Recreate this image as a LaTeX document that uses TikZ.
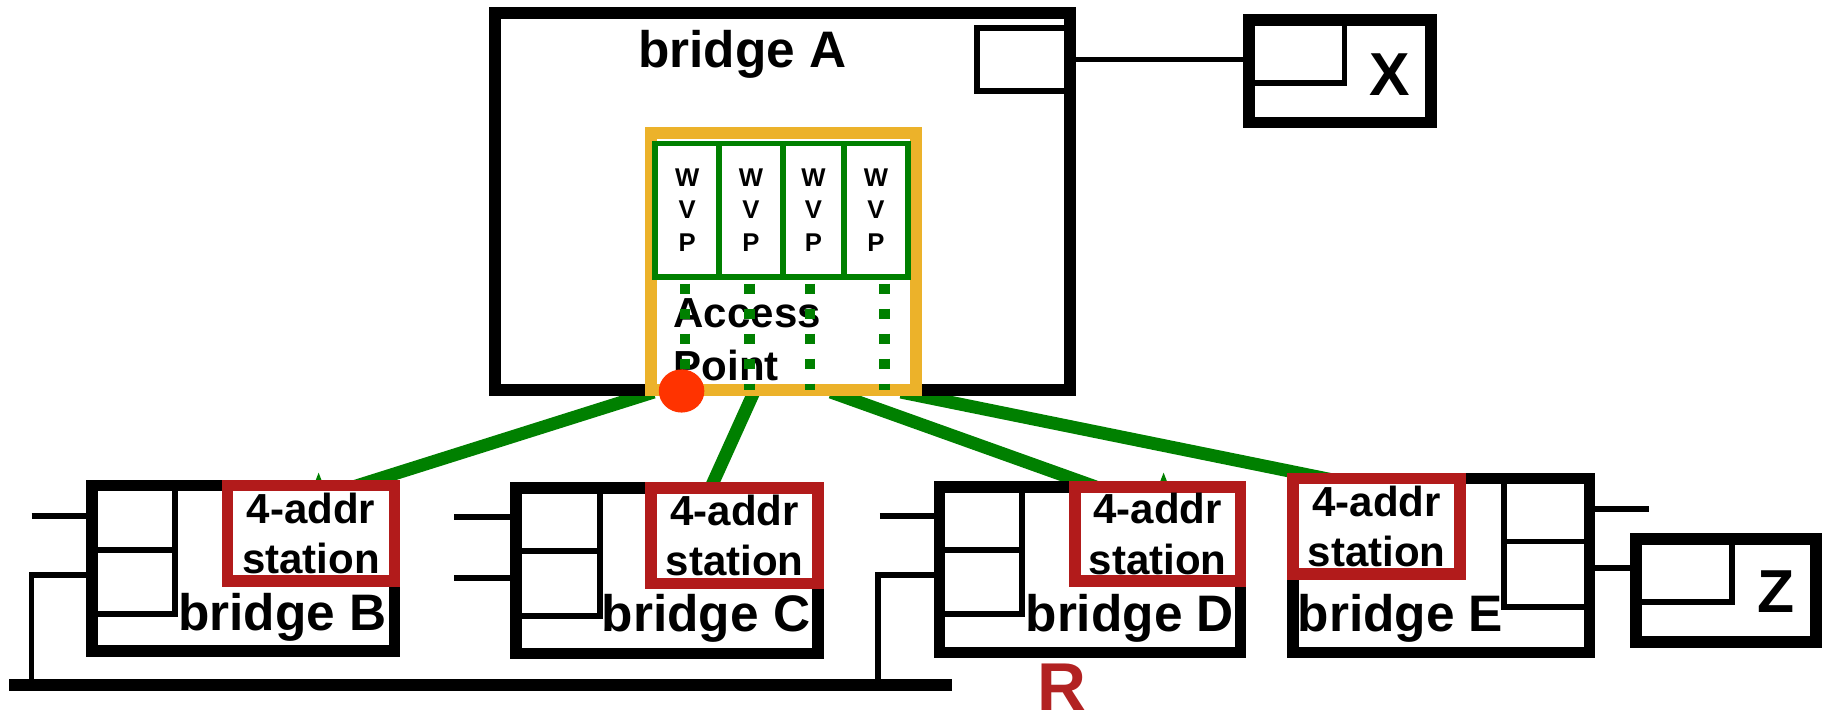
\documentclass[tikz,border=0pt]{standalone}
\usepackage{fontspec}
\setmainfont{Liberation Sans}
\usetikzlibrary{shapes.geometric}
\definecolor{wgreen}{RGB}{0,128,0}
\definecolor{aporange}{RGB}{236,178,42}
\definecolor{boxred}{RGB}{178,27,27}
\definecolor{dotred}{RGB}{255,51,0}
\definecolor{rred}{RGB}{178,34,34}
\begin{document}
\begin{tikzpicture}[x=1pt,y=-1pt,
  bridgebox/.style={draw=black, line width=10pt, fill=white, rectangle, inner sep=0pt, outer sep=0pt},
  portbox/.style={draw=black, line width=5pt, rectangle, inner sep=0pt, outer sep=0pt},
  thinline/.style={draw=black, line width=5pt},
  busline/.style={draw=black, line width=10pt},
  addrbox/.style={draw=boxred, line width=10pt, fill=white, rectangle, inner sep=0pt, outer sep=0pt,
     align=center, font=\fontsize{36}{43}\selectfont\bfseries},
  wvpbox/.style={draw=wgreen, line width=5pt, rectangle, inner sep=0pt, outer sep=0pt,
     align=center, font=\fontsize{22}{28}\selectfont\bfseries, minimum height=114pt},
  aptext/.style={anchor=base west, inner sep=0pt, font=\fontsize{36}{45}\selectfont\bfseries},
  blabel/.style={anchor=base, inner sep=0pt, font=\fontsize{44}{50}\selectfont\bfseries},
  wireless/.style={draw=wgreen, line width=11pt},
  dotline/.style={draw=wgreen, line width=9pt, dash pattern=on 9pt off 12.4pt},
]
\useasboundingbox (0,0) rectangle (1568,618);

% named end points of the wireless links
\coordinate (ap1) at (560,336);
\coordinate (ap2) at (646,336);
\coordinate (ap3) at (712,336);
\coordinate (ap4) at (772,336);
\coordinate (tB) at (300,418);
\coordinate (tC) at (608,420);
\coordinate (tD) at (944,419);
\coordinate (tE) at (1146,412);

% wireless links (behind the boxes)
\draw[wireless] (ap1) -- (tB);
\draw[wireless] (ap2) -- (tC);
\draw[wireless] (ap3) -- (tD);
\draw[wireless] (ap4) -- (tE);
\fill[wgreen] (269.5,414) -- (273,405) -- (276.5,414) -- cycle;
\fill[wgreen] (993.5,414) -- (997,405) -- (1000.5,414) -- cycle;

% bridge A
\node[bridgebox, minimum width=493pt, minimum height=323pt] (A) at (670.5,172.5) {};
\node[portbox, minimum width=77pt, minimum height=54pt] (Aport) at (875.5,51) {};
\node[blabel] (Alabel) at (636,58) {bridge A};

% X
\node[bridgebox, minimum width=156pt, minimum height=88pt] (X) at (1148,61) {};
\node[portbox, minimum width=82pt, minimum height=54pt] (Xport) at (1111,44) {};
\node[inner sep=0pt, font=\fontsize{52}{60}\selectfont\bfseries] (Xlabel) at (1191,64) {X};
\draw[thinline] (Aport.east) -- (Aport.east -| X.west);

% access point
\node[draw=aporange, line width=10pt, fill=white, rectangle, inner sep=0pt, outer sep=0pt,
      minimum width=227pt, minimum height=220pt] (AP) at (671.5,224) {};
\node[aptext] (apt1) at (577,281) {Access};
\node[aptext] (apt2) at (577,326) {Point};
\node[wvpbox, minimum width=54.5pt] (w1) at (588.75,180) {W\\V\\P};
\node[wvpbox, minimum width=55pt] (w2) at (643.5,180) {W\\V\\P};
\node[wvpbox, minimum width=52pt] (w3) at (697,180) {W\\V\\P};
\node[wvpbox, minimum width=55pt] (w4) at (750.5,180) {W\\V\\P};
\coordinate (d1t) at (587,243); \coordinate (d1b) at (587,334);
\coordinate (d2t) at (642,243); \coordinate (d2b) at (642,334);
\coordinate (d3t) at (694,243); \coordinate (d3b) at (694,334);
\coordinate (d4t) at (758,243); \coordinate (d4b) at (758,334);
\draw[dotline] (d1t) -- (d1b);
\draw[dotline] (d2t) -- (d2b);
\draw[dotline] (d3t) -- (d3b);
\draw[dotline] (d4t) -- (d4b);
\node[fill=dotred, ellipse, inner sep=0pt, minimum width=39pt, minimum height=37pt] (dot) at (584,335) {};

% bus
\coordinate (busL) at (8,587);
\coordinate (busR) at (816,587);
\draw[busline] (busL) -- (busR);

% bridge B
\node[bridgebox, minimum width=259pt, minimum height=142pt] (B) at (208.5,487) {};
\draw[thinline] (150,416) -- (150,526) -- (79,526);
\draw[thinline] (79,471) -- (150,471);
\draw[thinline] (27,442) -- (79,442);
\coordinate (bdrop) at (27,493);
\draw[thinline] (79,493) -- (bdrop) -- (bdrop |- busL);
\node[addrbox, minimum width=143pt, minimum height=82pt] (rB) at (266.5,457) {4-addr\\station};
\node[blabel] (Blabel) at (242,540) {bridge B};

% bridge C
\node[bridgebox, minimum width=259pt, minimum height=142pt] (C) at (571.5,489) {};
\draw[thinline] (514,418) -- (514,527.5) -- (442,527.5);
\draw[thinline] (442,472) -- (514,472);
\draw[thinline] (389,443) -- (442,443);
\draw[thinline] (389,495) -- (442,495);
\node[addrbox, minimum width=143pt, minimum height=82pt] (rC) at (629.5,459) {4-addr\\station};
\node[blabel] (Clabel) at (605,541) {bridge C};

% bridge D
\node[bridgebox, minimum width=258pt, minimum height=142pt] (D) at (934,488) {};
\draw[thinline] (876,417) -- (876,526) -- (805,526);
\draw[thinline] (805,471) -- (876,471);
\draw[thinline] (754,442) -- (805,442);
\coordinate (ddrop) at (752,493);
\draw[thinline] (805,493) -- (ddrop) -- (ddrop |- busL);
\node[addrbox, minimum width=142pt, minimum height=81pt] (rD) at (992,457.5) {4-addr\\station};
\node[blabel] (Dlabel) at (968,541) {bridge D};
\node[anchor=base, inner sep=0pt, text=rred, font=\fontsize{58}{66}\selectfont\bfseries] (R) at (910,609) {R};

% bridge E
\node[bridgebox, minimum width=254pt, minimum height=149pt] (E) at (1235,484.5) {};
\draw[thinline] (1289,410) -- (1289,520) -- (1362,520);
\draw[thinline] (1289,464) -- (1362,464);
\draw[thinline] (1362,436) -- (1413,436);
\node[addrbox, minimum width=143pt, minimum height=82pt] (rE) at (1179.5,451) {4-addr\\station};
\node[blabel] (Elabel) at (1200,541) {bridge E};

% Z
\node[bridgebox, minimum width=154pt, minimum height=88pt] (Z) at (1479,506) {};
\node[portbox, minimum width=82pt, minimum height=54pt] (Zport) at (1443,489) {};
\node[inner sep=0pt, font=\fontsize{52}{60}\selectfont\bfseries] (Zlabel) at (1522,507) {Z};
\coordinate (ez) at (1362,487);
\draw[thinline] (ez) -- (ez -| Z.west);
\end{tikzpicture}
\end{document}
